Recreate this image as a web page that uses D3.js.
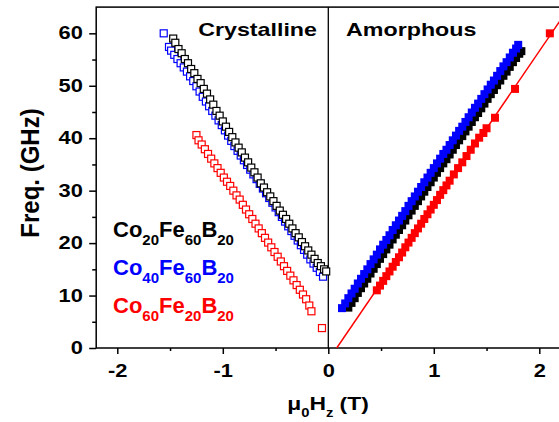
<!DOCTYPE html>
<html>
<head>
<meta charset="utf-8">
<script src="https://cdnjs.cloudflare.com/ajax/libs/d3/7.8.5/d3.min.js"></script>
<style>
body { margin: 0; background: #fff; }
text { font-family: "Liberation Sans", Arial, sans-serif; font-weight: bold; }
</style>
</head>
<body>
<div id="chart"></div>
<script>
// Crystalline films (open squares), field in T, frequency in GHz
var crysBlackH = [-1.47, -1.45, -1.42, -1.39, -1.36, -1.33, -1.30, -1.27, -1.24, -1.21, -1.18, -1.15, -1.12, -1.09, -1.06, -1.03, -1.00, -0.97, -0.94, -0.91, -0.88, -0.85, -0.82, -0.79, -0.76, -0.73, -0.70, -0.67, -0.64, -0.61, -0.58, -0.55, -0.52, -0.49, -0.46, -0.43, -0.40, -0.37, -0.34, -0.31, -0.28, -0.25, -0.22, -0.19, -0.16, -0.13, -0.10, -0.07, -0.04, -0.02];
var crysBlackF = [59.0, 58.2, 57.0, 56.2, 55.1, 54.3, 53.2, 52.4, 51.3, 50.5, 49.4, 48.5, 47.4, 46.4, 45.2, 44.3, 43.2, 42.2, 41.2, 40.2, 39.2, 38.2, 37.3, 36.3, 35.4, 34.4, 33.5, 32.5, 31.4, 30.6, 29.7, 28.9, 28.0, 27.1, 26.2, 25.4, 24.6, 23.7, 22.8, 21.9, 21.1, 20.2, 19.4, 18.6, 17.8, 17.0, 16.2, 15.6, 15.0, 14.6];

var crysBlueH = [-1.56, -1.51, -1.49, -1.46, -1.43, -1.40, -1.37, -1.34, -1.31, -1.28, -1.25, -1.22, -1.19, -1.16, -1.13, -1.10, -1.07, -1.04, -1.01, -0.98, -0.95, -0.92, -0.89, -0.86, -0.83, -0.80, -0.77, -0.74, -0.71, -0.68, -0.65, -0.62, -0.59, -0.56, -0.53, -0.50, -0.47, -0.44, -0.41, -0.38, -0.35, -0.32, -0.29, -0.26, -0.23, -0.20, -0.17, -0.14, -0.11, -0.08, -0.05];
var crysBlueF = [60.0, 57.4, 56.7, 55.9, 55.1, 54.3, 53.5, 52.7, 51.8, 50.9, 49.9, 48.9, 47.9, 47.0, 46.1, 45.2, 44.3, 43.4, 42.5, 41.5, 40.5, 39.5, 38.5, 37.6, 36.7, 35.8, 34.9, 34.0, 33.1, 32.2, 31.3, 30.4, 29.5, 28.6, 27.7, 26.8, 25.9, 25.0, 24.1, 23.2, 22.3, 21.4, 20.5, 19.6, 18.7, 17.8, 16.9, 16.1, 15.3, 14.5, 13.6];

var crysRedH = [-1.25, -1.23, -1.20, -1.17, -1.14, -1.11, -1.08, -1.05, -1.02, -0.99, -0.96, -0.93, -0.90, -0.87, -0.84, -0.81, -0.78, -0.75, -0.72, -0.69, -0.66, -0.63, -0.60, -0.57, -0.54, -0.51, -0.48, -0.45, -0.42, -0.39, -0.36, -0.33, -0.30, -0.27, -0.24, -0.21, -0.18, -0.16, -0.06];
var crysRedF = [40.6, 39.6, 38.8, 37.9, 37.0, 36.1, 35.2, 34.3, 33.4, 32.5, 31.7, 30.9, 30.0, 29.1, 28.3, 27.3, 26.4, 25.5, 24.6, 23.7, 22.8, 21.9, 21.0, 20.1, 19.2, 18.3, 17.4, 16.5, 15.6, 14.7, 13.8, 12.9, 12.0, 11.1, 10.2, 9.3, 8.1, 7.0, 3.8];

// Amorphous films (filled squares)
var amorBlackH = [0.19, 0.22, 0.25, 0.28, 0.31, 0.34, 0.37, 0.40, 0.43, 0.46, 0.49, 0.52, 0.55, 0.58, 0.61, 0.64, 0.67, 0.70, 0.73, 0.76, 0.79, 0.82, 0.85, 0.88, 0.91, 0.94, 0.97, 1.00, 1.03, 1.06, 1.09, 1.12, 1.15, 1.18, 1.21, 1.24, 1.27, 1.30, 1.33, 1.36, 1.39, 1.42, 1.45, 1.48, 1.51, 1.54, 1.57, 1.60, 1.63, 1.66, 1.69, 1.72, 1.75, 1.78, 1.81, 1.83];
var amorBlackF = [7.7, 8.6, 9.5, 10.5, 11.4, 12.3, 13.2, 14.2, 15.1, 16.0, 17.0, 17.9, 18.8, 19.7, 20.7, 21.6, 22.5, 23.4, 24.3, 25.3, 26.2, 27.1, 28.0, 28.9, 29.8, 30.7, 31.6, 32.5, 33.4, 34.3, 35.2, 36.0, 36.9, 37.8, 38.7, 39.6, 40.4, 41.3, 42.2, 43.1, 44.0, 44.8, 45.7, 46.6, 47.5, 48.4, 49.2, 50.1, 51.0, 51.9, 52.7, 53.6, 54.5, 55.3, 56.1, 56.6];

var amorBlueH = [0.13, 0.16, 0.19, 0.22, 0.25, 0.28, 0.31, 0.34, 0.37, 0.40, 0.43, 0.46, 0.49, 0.52, 0.55, 0.58, 0.61, 0.64, 0.67, 0.70, 0.73, 0.76, 0.79, 0.82, 0.85, 0.88, 0.91, 0.94, 0.97, 1.00, 1.03, 1.06, 1.09, 1.12, 1.15, 1.18, 1.21, 1.24, 1.27, 1.30, 1.33, 1.36, 1.39, 1.42, 1.45, 1.48, 1.51, 1.54, 1.57, 1.60, 1.63, 1.66, 1.69, 1.72, 1.75, 1.78, 1.80];
var amorBlueF = [7.6, 8.5, 9.5, 10.4, 11.3, 12.3, 13.2, 14.1, 15.0, 16.0, 16.9, 17.8, 18.8, 19.7, 20.6, 21.5, 22.5, 23.4, 24.3, 25.2, 26.1, 27.1, 28.0, 28.9, 29.8, 30.7, 31.6, 32.5, 33.4, 34.3, 35.2, 36.1, 37.0, 37.8, 38.7, 39.6, 40.5, 41.4, 42.2, 43.1, 44.0, 44.9, 45.8, 46.6, 47.5, 48.4, 49.3, 50.2, 51.0, 51.9, 52.8, 53.7, 54.5, 55.4, 56.3, 57.1, 57.8];

var amorRedH = [0.46, 0.49, 0.52, 0.55, 0.58, 0.61, 0.64, 0.67, 0.70, 0.73, 0.76, 0.79, 0.82, 0.85, 0.88, 0.91, 0.94, 0.97, 1.00, 1.03, 1.06, 1.09, 1.12, 1.15, 1.19, 1.23, 1.27, 1.31, 1.35, 1.39, 1.43, 1.47, 1.50, 1.58, 1.77, 2.10];
var amorRedF = [11.0, 11.9, 12.8, 13.7, 14.6, 15.5, 16.4, 17.3, 18.2, 19.2, 20.1, 21.0, 21.9, 22.8, 23.7, 24.6, 25.5, 26.4, 27.3, 28.2, 29.2, 30.1, 31.0, 31.9, 33.1, 34.3, 35.4, 36.6, 37.8, 39.0, 40.1, 41.0, 41.9, 43.9, 49.4, 60.0];

// linear fit through the amorphous Co60Fe20B20 points
var fitH = [0.08, 2.2];
var fitF = [0, 62.5];

var xTicks = [-2, -1, 0, 1, 2];
var xMinor = [-1.5, -0.5, 0.5, 1.5];
var yTicks = [0, 10, 20, 30, 40, 50, 60];
var yMinor = [5, 15, 25, 35, 45, 55];

var legendNames = [["Co", "20", "Fe", "60", "B", "20"], ["Co", "40", "Fe", "60", "B", "20"], ["Co", "60", "Fe", "20", "B", "20"]];
var legendColors = ["#000000", "#0000ff", "#ff0000"];

var svgWidth = 559;
var svgHeight = 422;

var margin = {
    top: 7.1,
    right: -1.4,
    bottom: 74,
    left: 96.2
};

var width = svgWidth - margin.left - margin.right;
var height = svgHeight - margin.top - margin.bottom;

// the original figure is stretched sideways, so text is too
var sx = 1.25;

var svg = d3.select("#chart")
    .append("svg")
    .attr("width", svgWidth)
    .attr("height", svgHeight);

var chartGroup = svg.append("g")
    .attr("transform", `translate(${margin.left}, ${margin.top})`);

var xScale = d3.scaleLinear().domain([-2.2, 2.2]).range([0, width]);
var yScale = d3.scaleLinear().domain([0, 65]).range([height, 0]);

chartGroup.append("clipPath")
    .attr("id", "clip")
    .append("rect")
    .attr("width", width)
    .attr("height", height);

// minor ticks
chartGroup.append("g")
    .attr("transform", `translate(0, ${height})`)
    .call(d3.axisBottom(xScale).tickValues(xMinor).tickSize(3).tickFormat(""))
    .call(g => g.select(".domain").remove());

chartGroup.append("g")
    .call(d3.axisLeft(yScale).tickValues(yMinor).tickSize(4).tickFormat(""))
    .call(g => g.select(".domain").remove());

// major ticks with labels
var xAxis = chartGroup.append("g")
    .attr("transform", `translate(0, ${height})`)
    .call(d3.axisBottom(xScale).tickValues(xTicks).tickSize(6).tickPadding(11).tickFormat(d => String(d)));
xAxis.select(".domain").remove();
xAxis.selectAll("text")
    .attr("font-size", "17.5px")
    .attr("fill", "#000")
    .attr("transform", `scale(${sx},1)`);

var yAxis = chartGroup.append("g")
    .call(d3.axisLeft(yScale).tickValues(yTicks).tickSize(7).tickPadding(3.7).tickFormat(d => String(d)));
yAxis.select(".domain").remove();
yAxis.selectAll("text")
    .attr("font-size", "17.5px")
    .attr("fill", "#000")
    .attr("transform", `scale(${sx},1)`);

chartGroup.selectAll(".tick line").attr("stroke", "#000").attr("stroke-width", 1.5);

// frame
chartGroup.append("rect")
    .attr("width", width)
    .attr("height", height)
    .attr("fill", "none")
    .attr("stroke", "#000")
    .attr("stroke-width", 1.5);

// zero field divider
chartGroup.append("line")
    .attr("x1", xScale(0))
    .attr("x2", xScale(0))
    .attr("y1", 0)
    .attr("y2", height)
    .attr("stroke", "#000")
    .attr("stroke-width", 1.3);

function drawSeries(hs, fs, color, filled) {
    var pts = hs.map((h, i) => ({h: h, f: fs[i]}));
    var s = filled ? 8 : 7;
    chartGroup.append("g")
        .selectAll("rect")
        .data(pts)
        .enter()
        .append("rect")
        .attr("x", d => xScale(d.h) - s / 2)
        .attr("y", d => yScale(d.f) - s / 2)
        .attr("width", s)
        .attr("height", s)
        .attr("fill", filled ? color : "#fff")
        .attr("stroke", filled ? "none" : color)
        .attr("stroke-width", 1.2);
}

drawSeries(crysBlueH, crysBlueF, "#0000ff", false);
drawSeries(crysBlackH, crysBlackF, "#000000", false);
drawSeries(crysRedH, crysRedF, "#ff0000", false);

// fit line
chartGroup.append("path")
    .datum(fitH.map((h, i) => [h, fitF[i]]))
    .attr("clip-path", "url(#clip)")
    .attr("fill", "none")
    .attr("stroke", "#ff0000")
    .attr("stroke-width", 1.5)
    .attr("d", d3.line().x(d => xScale(d[0])).y(d => yScale(d[1])));

drawSeries(amorBlackH, amorBlackF, "#000000", true);
drawSeries(amorBlueH, amorBlueF, "#0000ff", true);
drawSeries(amorRedH, amorRedF, "#ff0000", true);

// panel labels
svg.append("text")
    .attr("transform", `translate(317, 36) scale(${sx},1)`)
    .attr("text-anchor", "end")
    .attr("font-size", "18.6px")
    .text("Crystalline");

svg.append("text")
    .attr("transform", `translate(346, 36) scale(${sx},1)`)
    .attr("font-size", "18.6px")
    .text("Amorphous");

// legend
legendNames.forEach(function(parts, i) {
    var t = svg.append("text")
        .attr("x", 113)
        .attr("y", 236.7 + i * 38.3)
        .attr("font-size", "22px")
        .attr("fill", legendColors[i]);
    parts.forEach(function(p, j) {
        var sub = j % 2 === 1;
        t.append("tspan")
            .attr("font-size", sub ? "15px" : "22px")
            .attr("dy", j === 0 ? 0 : (sub ? 8 : -8))
            .text(p);
    });
});

// axis titles
var xTitle = svg.append("text")
    .attr("transform", `translate(328, 410) scale(1.23,1)`)
    .attr("text-anchor", "middle")
    .attr("font-size", "18.6px");
xTitle.append("tspan").text("\u03bc");
xTitle.append("tspan").attr("font-size", "12px").attr("dy", 7).text("0");
xTitle.append("tspan").attr("dy", -7).text("H");
xTitle.append("tspan").attr("font-size", "12px").attr("dy", 7).text("z");
xTitle.append("tspan").attr("dy", -7).text(" (T)");

svg.append("text")
    .attr("transform", "translate(38.5, 173) scale(1.1,1) rotate(-90)")
    .attr("text-anchor", "middle")
    .attr("font-size", "24px")
    .text("Freq. (GHz)");
</script>
</body>
</html>
